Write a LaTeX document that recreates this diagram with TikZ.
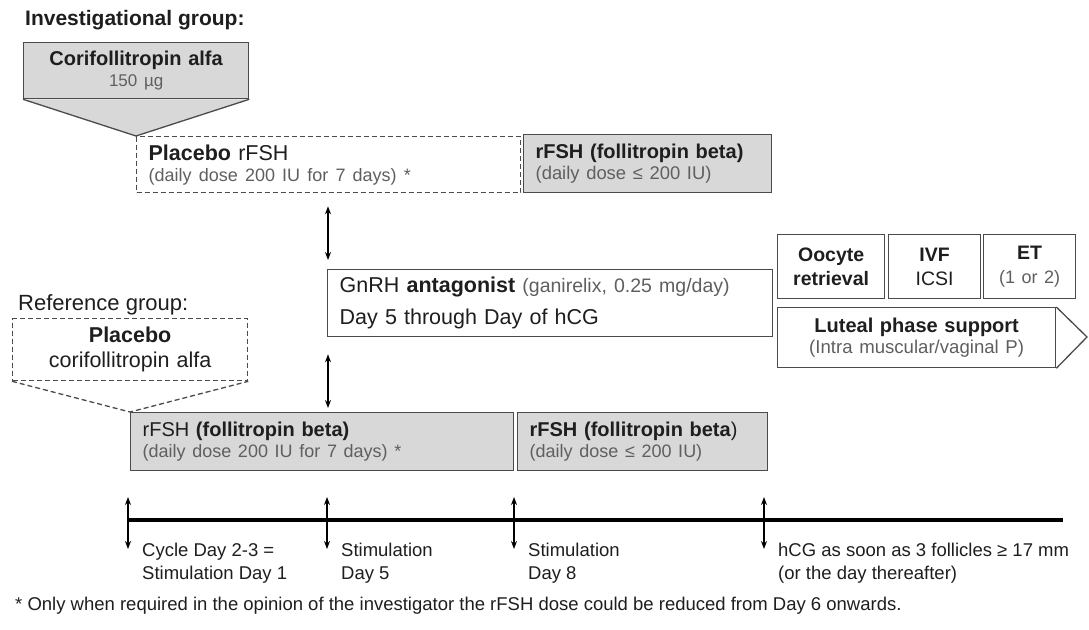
\documentclass[tikz,border=0pt]{standalone}
\usepackage{fontspec}
\setmainfont{Liberation Sans}
\usepackage{tikz}
\usetikzlibrary{arrows.meta}
\usepackage{xcolor}

\definecolor{cajagris}{RGB}{216,216,216}
\definecolor{bordegris}{RGB}{75,75,75}
\definecolor{textogris}{RGB}{95,95,95}
\definecolor{textonegro}{RGB}{30,30,30}

\newcommand{\dosis}[2][18]{{\fontsize{#1}{#1}\selectfont\color{textogris}#2}}

\tikzset{
    caja/.style={draw=bordegris, line width=1.3pt, anchor=north west, inner xsep=12pt,
        inner ysep=0pt, align=left, text=textonegro, font=\fontsize{20}{21}\selectfont},
    gris/.style={caja, fill=cajagris},
    punteada/.style={caja, dash pattern=on 5pt off 3pt},
    flecha/.style={{Stealth[length=8pt,width=6pt]}-{Stealth[length=8pt,width=6pt]}, line width=1.3pt},
    etiqueta/.style={anchor=north west, inner sep=0pt, align=left, text=textonegro,
        font=\fontsize{18.5}{23}\selectfont},
}

\begin{document}
\begin{tikzpicture}[x=1pt,y=-1pt]
    \useasboundingbox (0,0) rectangle (1089,629);

    % Grupo de investigación
    \node[anchor=west, inner sep=0pt, font=\bfseries\fontsize{21}{22}\selectfont, text=textonegro] (tinv) at (25,20) {Investigational group:};
    \node[gris, text width=201pt, minimum height=56pt, align=center] (cori) at (23,42) {\textbf{Corifollitropin alfa}\\\dosis[17]{150 µg}};
    \node[punteada, text width=360pt, minimum height=56pt, font=\fontsize{21.5}{21}\selectfont] (plac) at (136,136) {\textbf{Placebo} rFSH\\\dosis{(daily dose 200 IU for 7 days) *}};
    \node[gris, text width=224pt, minimum height=58pt] (rfsha) at (523,134) {\textbf{rFSH (follitropin beta)}\\\dosis[18.4]{(daily dose ≤ 200 IU)}};
    \filldraw[fill=cajagris, draw=bordegris, line width=1.3pt] (cori.south west) -- (plac.north west) -- (cori.south east);

    % Antagonista
    \node[caja, text width=421pt, minimum height=67pt, font=\fontsize{21.5}{24}\selectfont] (gnrh) at (327,269) {GnRH \textbf{antagonist} \dosis[19.5]{(ganirelix, 0.25 mg/day)}\\[8pt]Day 5 through Day of hCG};
    \draw[flecha, shorten <=13pt, shorten >=9pt] ([xshift=1pt]plac.south -| gnrh.west) -- ([xshift=1pt]gnrh.north west);

    % Grupo de referencia
    \node[anchor=west, inner sep=0pt, font=\fontsize{22}{24}\selectfont, text=textonegro] (tref) at (18,305) {Reference group:};
    \node[punteada, text width=211pt, minimum height=62pt, align=center, font=\fontsize{21.5}{25}\selectfont] (refp) at (12,318) {\textbf{Placebo}\\corifollitropin alfa};
    \node[gris, text width=359pt, minimum height=58pt] (rfshb) at (130,412) {rFSH \textbf{(follitropin beta)}\\\dosis{(daily dose 200 IU for 7 days) *}};
    \node[gris, text width=226pt, minimum height=58pt] (rfshc) at (517,412) {\textbf{rFSH (follitropin beta})\\\dosis{(daily dose ≤ 200 IU)}};
    \draw[bordegris, line width=1.3pt, dash pattern=on 5pt off 3pt] (refp.south west) -- (rfshb.north west) -- (refp.south east);
    \draw[flecha, shorten <=17pt, shorten >=4pt] ([xshift=1pt]gnrh.south west) -- ([xshift=1pt]rfshb.north -| gnrh.west);

    % Recuperación, FIV y transferencia
    \node[caja, inner xsep=4pt, text width=99pt, minimum height=64pt, align=center, font=\bfseries\fontsize{19.5}{24}\selectfont] (ovo) at (777,234) {Oocyte\\retrieval};
    \node[caja, inner xsep=4pt, text width=84pt, minimum height=64pt, align=center, font=\fontsize{19.5}{24}\selectfont] (ivf) at (888,234) {\textbf{IVF}\\ICSI};
    \node[caja, inner xsep=4pt, text width=84pt, minimum height=64pt, align=center, font=\fontsize{19.5}{24}\selectfont] (et) at (983,234) {\textbf{ET}\\\dosis{(1 or 2)}};
    \node[caja, text width=254pt, minimum height=60pt, align=center] (lut) at (777,307) {\textbf{Luteal phase support}\\\dosis[18.6]{(Intra muscular/vaginal P)}};
    \coordinate (punta) at (1087,337);
    \draw[bordegris, line width=1.3pt] (lut.north east) -- (punta) -- (lut.south east);

    % Línea de tiempo
    \coordinate (ini) at (128,520);
    \coordinate (fin) at (1063,520);
    \draw[line width=3.5pt] (ini) -- (fin);
    \foreach \n/\x/\txt in {1/128/{Cycle Day 2-3 =\\Stimulation Day 1},
                             2/327/{Stimulation\\Day 5},
                             3/514/{Stimulation\\Day 8},
                             4/764/{hCG as soon as 3 follicles ≥ 17 mm\\(or the day thereafter)}} {
        \coordinate (ta\n) at (\x,497);
        \coordinate (tb\n) at (\x,549);
        \draw[flecha] (ta\n) -- (tb\n);
        \node[etiqueta] (lab\n) at (\x+14,543) {\txt};
    }

    % Nota
    \node[anchor=west, inner sep=0pt, font=\fontsize{18.5}{20}\selectfont, text=textonegro] (nota) at (15,606) {* Only when required in the opinion of the investigator the rFSH dose could be reduced from Day 6 onwards.};
\end{tikzpicture}
\end{document}
